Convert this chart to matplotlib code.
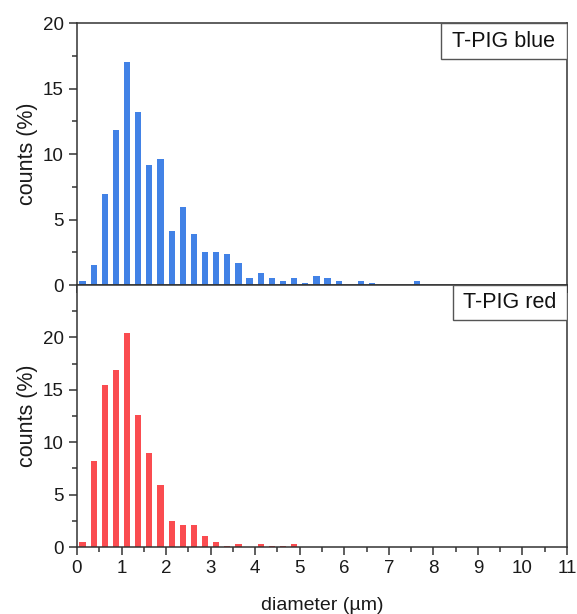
import matplotlib.pyplot as plt
from matplotlib.patches import Rectangle
from matplotlib.ticker import MultipleLocator, FixedLocator
import numpy as np

plt.rcParams['font.family'] = ['Liberation Sans', 'DejaVu Sans']

# Data: bin centres every 0.25 um, counts in %
bin_width = 0.25
blue_counts = [0.3, 1.55, 6.92, 11.8, 17.0, 13.2, 9.2, 9.6, 4.15, 5.95, 3.92,
               2.52, 2.52, 2.33, 1.7, 0.52, 0.92, 0.52, 0.33, 0.52, 0.13, 0.71,
               0.52, 0.33, 0.0, 0.33, 0.13, 0.0, 0.0, 0.0, 0.33]
red_counts = [0.48, 8.2, 15.45, 16.9, 20.45, 12.6, 8.95, 5.9, 2.44, 2.06, 2.06,
              1.08, 0.48, 0.13, 0.25, 0.0, 0.25, 0.13, 0.13, 0.25]
labels = ['T-PIG blue', 'T-PIG red']
colors = ['#4282e6', '#fa4c50']
ylims = [20, 25]
yticks = [0, 5, 10, 15, 20]

fig = plt.figure(figsize=(5.77, 6.14), dpi=100)
ax1 = fig.add_axes([0.1334, 0.5358, 0.8493, 0.4267])
ax2 = fig.add_axes([0.1334, 0.1091, 0.8493, 0.4267])

spine_col = '#333333'
text_col = '#1a1a1a'
boxes = [(0.742, 0.8626), (0.767, 0.866)]

for ax, counts, lab, col, ymax, box in zip([ax1, ax2], [blue_counts, red_counts],
                                           labels, colors, ylims, boxes):
    x = bin_width / 2 + bin_width * np.arange(len(counts))
    ax.bar(x, counts, width=0.14, color=col, edgecolor='none')
    ax.set_xlim(0, 11)
    ax.set_ylim(0, ymax)
    ax.xaxis.set_major_locator(MultipleLocator(1))
    ax.xaxis.set_minor_locator(MultipleLocator(0.5))
    ax.yaxis.set_major_locator(FixedLocator(yticks))
    ax.yaxis.set_minor_locator(FixedLocator([2.5, 7.5, 12.5, 17.5, 22.5]))
    ax.tick_params(which='both', direction='out', color=spine_col, width=1.1,
                   labelsize=13.5, labelcolor=text_col)
    ax.tick_params(which='major', length=6)
    ax.tick_params(which='minor', length=3.5)
    for s in ax.spines.values():
        s.set_color(spine_col)
        s.set_linewidth(1.1)
    ax.set_ylabel('counts (%)', fontsize=15.5, color=text_col)
    ax.yaxis.set_label_coords(-0.08, 0.5)
    ax.add_patch(Rectangle((box[0], box[1]), 1 - box[0], 1 - box[1],
                           transform=ax.transAxes, facecolor='white',
                           edgecolor='#555555', lw=1.0, zorder=5))
    ax.text((box[0] + 1) / 2, (box[1] + 1) / 2, lab, transform=ax.transAxes,
            ha='center', va='center', fontsize=15.5, color='#111111', zorder=6)

ax1.tick_params(axis='x', labelbottom=False)
ax2.set_xlabel('diameter (µm)', fontsize=14, color=text_col, labelpad=14)

fig.savefig('out.png', dpi=100)
